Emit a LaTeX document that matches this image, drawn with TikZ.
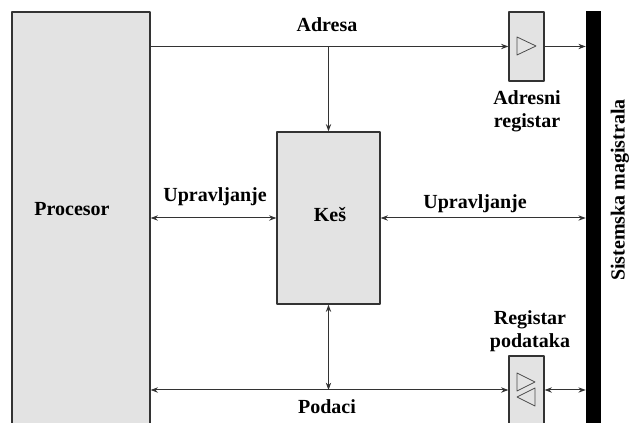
\documentclass[tikz,border=0pt]{standalone}
\usepackage{fontspec}
\setmainfont{Liberation Serif}
\usetikzlibrary{arrows.meta,fit}

\begin{document}
\begin{tikzpicture}[
  x=0.75pt, y=-0.75pt,
  line join=round,
  box/.style={draw=black!80, line width=0.9pt, fill=black!11, inner sep=0pt},
  busbar/.style={fill=black, inner sep=0pt},
  wire/.style={draw=black!80, line width=0.75pt, >={Stealth[length=5.5pt,width=4pt]}},
  gate/.style={draw=black!70, line width=0.6pt},
  lbl/.style={font=\fontsize{15}{17}\selectfont\bfseries, align=center},
]
\clip (0,0) rectangle (632,423);

% ── the blocks ────────────────────────────────────────────────────────────
\node[box, fit={(12,12) (150,430)}] (proc) {};
\node[box, fit={(277,132) (380,304)}] (cache) {};
\node[box, fit={(509,12) (544,81)}] (areg) {};
\node[box, fit={(509,356) (544,430)}] (dreg) {};
\node[busbar, fit={(586,11) (601,430)}] (bus) {};
\coordinate (dline) at (328,390);

% ── buffers inside the registers ──────────────────────────────────────────
\draw[gate] (517,37) -- (536,46) -- (517,55) -- cycle;
\draw[gate] (517,373) -- (535,382) -- (517,391) -- cycle;
\draw[gate] (535,388) -- (517,397) -- (535,406) -- cycle;

% ── address, control and data lines ───────────────────────────────────────
\draw[wire,->] (proc.east |- areg.west) -- (areg.west);
\draw[wire,->] (areg.east) -- (areg.east -| bus.west);
\draw[wire,->] (cache.north |- areg.west) -- (cache.north);
\draw[wire,<->] (proc.east |- cache.west) -- (cache.west);
\draw[wire,<->] (cache.east) -- (cache.east -| bus.west);
\draw[wire,<->] (cache.south) -- (cache.south |- dline);
\draw[wire,<->] (proc.east |- dline) -- (dreg.west |- dline);
\draw[wire,<->] (dreg.east |- dline) -- (bus.west |- dline);

% ── labels ────────────────────────────────────────────────────────────────
\node[lbl] (tproc) at (72,209) {Procesor};
\node[lbl] (tcache) at (330,215) {Keš};
\node[lbl] (taddr) at (327,25) {Adresa};
\node[lbl] (tctl1) at (215,197) {Upravljanje};
\node[lbl] (tctl2) at (475,204) {Upravljanje};
\node[lbl] (tdata) at (327,407) {Podaci};
\node[lbl] (tareg) at (527,111) {Adresni\\registar};
\node[lbl] (tdreg) at (530,331) {Registar\\podataka};
\node[lbl, rotate=90] (tbus) at (620,190) {Sistemska magistrala};

\end{tikzpicture}
\end{document}
